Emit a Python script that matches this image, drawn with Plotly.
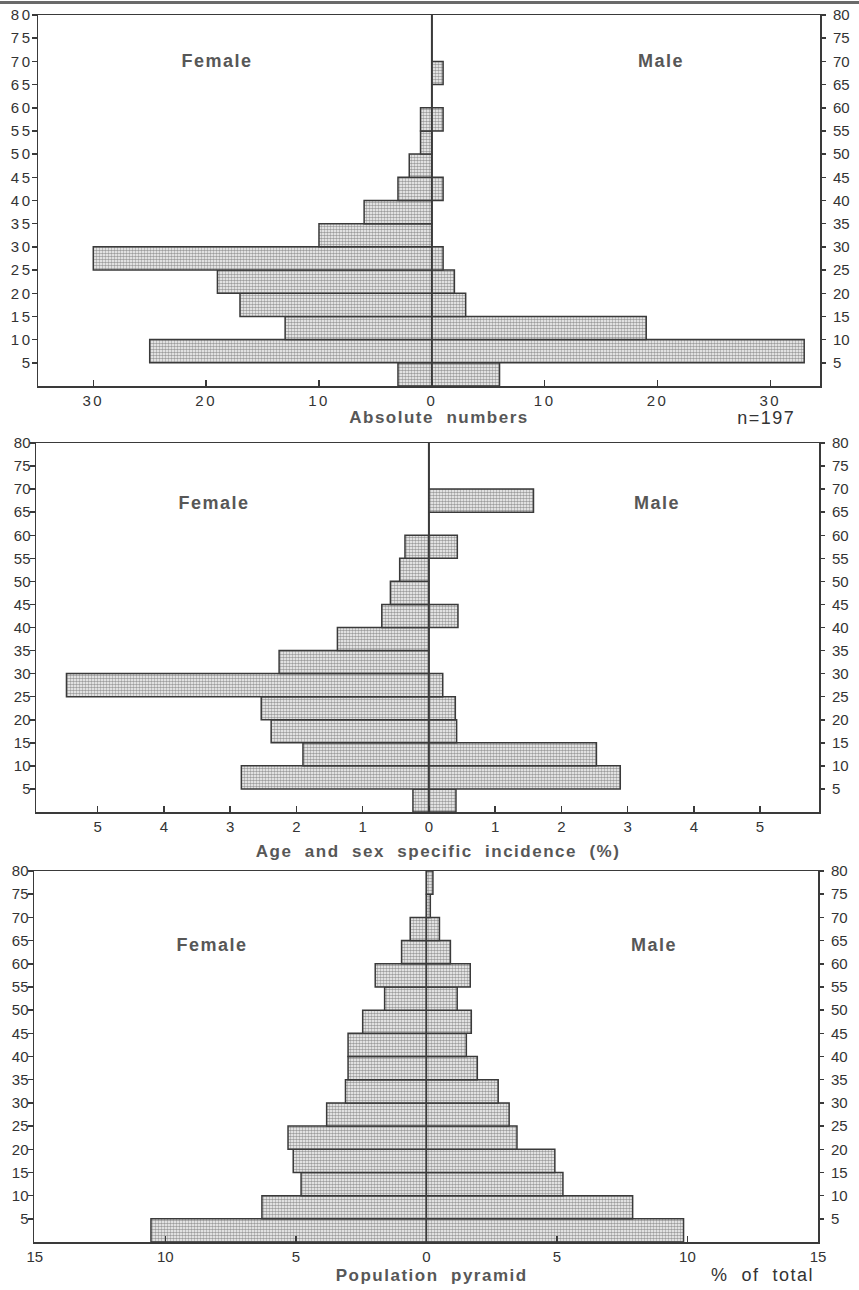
import plotly.graph_objects as go

# ---------------- data ----------------
AGE_START = [0, 5, 10, 15, 20, 25, 30, 35, 40, 45, 50, 55, 60, 65, 70, 75]
AGE_TICKS = [5, 10, 15, 20, 25, 30, 35, 40, 45, 50, 55, 60, 65, 70, 75, 80]
AGE_TICK_TEXT = [str(v) for v in AGE_TICKS]

ABS_FEMALE = [3, 25, 13, 17, 19, 30, 10, 6, 3, 2, 1, 1, 0, 0, 0, 0]
ABS_MALE = [6, 33, 19, 3, 2, 1, 0, 0, 1, 0, 0, 1, 0, 1, 0, 0]

INC_FEMALE = [0.24, 2.83, 1.90, 2.38, 2.53, 5.47, 2.26, 1.38, 0.71, 0.58, 0.44, 0.36, 0, 0, 0, 0]
INC_MALE = [0.41, 2.89, 2.53, 0.42, 0.40, 0.21, 0, 0, 0.44, 0, 0, 0.43, 0, 1.58, 0, 0]

POP_FEMALE = [10.55, 6.3, 4.8, 5.1, 5.3, 3.82, 3.1, 3.0, 3.0, 2.44, 1.6, 1.96, 0.95, 0.62, 0, 0]
POP_MALE = [9.85, 7.9, 5.23, 4.92, 3.47, 3.17, 2.75, 1.95, 1.53, 1.72, 1.18, 1.68, 0.92, 0.5, 0.15, 0.25]

ABS_XTICKS = [-30, -20, -10, 0, 10, 20, 30]
ABS_XTEXT = ["30", "20", "10", "0", "10", "20", "30"]
INC_XTICKS = [-5, -4, -3, -2, -1, 0, 1, 2, 3, 4, 5]
INC_XTEXT = ["5", "4", "3", "2", "1", "0", "1", "2", "3", "4", "5"]
POP_XTICKS = [-15, -10, -5, 0, 5, 10, 15]
POP_XTEXT = ["15", "10", "5", "0", "5", "10", "15"]

# ---------------- style ----------------
W, H = 859, 1290
FONT = "Liberation Sans, Arial, Helvetica, sans-serif"
LINE = "#3a3a3a"
TXT = "#333333"
LBL = "#575757"

mids = [a + 2.5 for a in AGE_START]

panels = [
    dict(fem=ABS_FEMALE, mal=ABS_MALE, xr=[-34.9, 34.4], xt=ABS_XTICKS, xtt=ABS_XTEXT,
         px=(38, 820), py=(15, 386), center=True, lab=(-19, 20.3, 70)),
    dict(fem=INC_FEMALE, mal=INC_MALE, xr=[-5.93, 5.89], xt=INC_XTICKS, xtt=INC_XTEXT,
         px=(36, 819), py=(443, 812), center=True, lab=(-3.24, 3.45, 67)),
    dict(fem=POP_FEMALE, mal=POP_MALE, xr=[-15.03, 15.0], xt=POP_XTICKS, xtt=POP_XTEXT,
         px=(34, 818), py=(871, 1242), center=False, lab=(-8.2, 8.7, 64)),
]

fig = go.Figure()
layout = dict(width=W, height=H, margin=dict(l=0, r=0, t=0, b=0),
              paper_bgcolor="white", plot_bgcolor="white", showlegend=False,
              barmode="overlay", annotations=[], shapes=[])

pattern = dict(shape=".", fgcolor="#3c3c3c", bgcolor="#ffffff", size=3, solidity=0.6)

tickfont = dict(family=FONT, size=15, color=TXT)

for i, p in enumerate(panels):
    n = i + 1
    xa = "x" if n == 1 else f"x{n}"
    ya = "y" if n == 1 else f"y{n}"
    yr_name = f"y{n + 3}"
    xdom = [p["px"][0] / W, p["px"][1] / W]
    ydom = [1 - p["py"][1] / H, 1 - p["py"][0] / H]

    fem_neg = [-v for v in p["fem"]]
    for vals in (fem_neg, p["mal"]):
        fig.add_trace(go.Bar(
            x=vals, y=mids, orientation="h", width=5, xaxis=xa, yaxis=ya,
            marker=dict(color="white", pattern=pattern, line=dict(color=LINE, width=1.5)),
            hoverinfo="skip"))
    # invisible trace carrying right-hand age axis
    fig.add_trace(go.Scatter(x=[0] * len(AGE_TICKS), y=AGE_TICKS, xaxis=xa, yaxis=yr_name,
                             mode="markers", marker=dict(opacity=0), hoverinfo="skip"))

    layout["xaxis" if n == 1 else f"xaxis{n}"] = dict(
        domain=xdom, anchor=ya, range=p["xr"], showline=True, mirror=True,
        linecolor=LINE, linewidth=1.5, ticks="inside", ticklen=6, tickwidth=1.5,
        tickcolor=LINE, tickvals=p["xt"], ticktext=p["xtt"], tickfont=tickfont,
        showgrid=False, zeroline=False, fixedrange=True, automargin=False)
    layout["yaxis" if n == 1 else f"yaxis{n}"] = dict(
        domain=ydom, anchor=xa, range=[0, 80], showline=True, mirror=True,
        linecolor=LINE, linewidth=1.5, ticks="outside", ticklen=5, tickwidth=1.5,
        tickcolor=LINE, tickvals=AGE_TICKS, ticktext=AGE_TICK_TEXT, tickfont=tickfont,
        showgrid=False, zeroline=False, automargin=False, ticklabelstandoff=-4,
        fixedrange=True)
    layout[f"yaxis{n + 3}"] = dict(
        overlaying=ya, anchor=xa, side="right", range=[0, 80], showline=False,
        ticks="outside", ticklen=5, tickwidth=1.5, tickcolor=LINE,
        tickvals=AGE_TICKS, ticktext=AGE_TICK_TEXT, tickfont=tickfont,
        showgrid=False, zeroline=False, automargin=False, ticklabelstandoff=4,
        fixedrange=True)

    if p["center"]:
        layout["shapes"].append(dict(type="line", xref=xa, yref=f"{ya} domain",
                                     x0=0, x1=0, y0=0, y1=1,
                                     line=dict(color=LINE, width=1.8)))

    fx, mx, ly = p["lab"]
    for txt, xx in (("Female", fx), ("Male", mx)):
        layout["annotations"].append(dict(
            text=f"<b>{txt}</b>", x=xx, y=ly, xref=xa, yref=ya, showarrow=False,
            font=dict(family=FONT, size=18, color=LBL), xanchor="center", yanchor="middle"))

def paper_text(text, px, py, bold=True, size=17):
    layout["annotations"].append(dict(
        text=f"<b>{text}</b>" if bold else text, x=px / W, y=1 - py / H,
        xref="paper", yref="paper", showarrow=False,
        font=dict(family=FONT, size=size, color=LBL if bold else TXT),
        xanchor="center", yanchor="middle"))

paper_text("Absolute  numbers", 439, 418)
paper_text("n=197", 766, 418, bold=False, size=18)
paper_text("Age  and  sex  specific  incidence  (%)", 438, 851)
paper_text("Population  pyramid", 431, 1275)
paper_text("%  of  total", 762, 1275, bold=False, size=18)

# page border line at the very top of the scan
layout["shapes"].append(dict(type="line", xref="paper", yref="paper", x0=0, x1=1,
                             y0=1 - 2.5 / H, y1=1 - 2.5 / H,
                             line=dict(color="#6a6a6a", width=3)))

fig.update_layout(**layout)

post = """
document.body.style.margin = '0';
document.body.style.padding = '0';
document.querySelectorAll('.xtick text, .ytick text').forEach(function(t){ t.style.letterSpacing = '2.5px'; });
document.querySelectorAll('.annotation-text').forEach(function(t){ t.style.letterSpacing = '1.5px'; });
"""
fig.write_html("out.html", post_script=post, config={"displayModeBar": False, "staticPlot": True})
